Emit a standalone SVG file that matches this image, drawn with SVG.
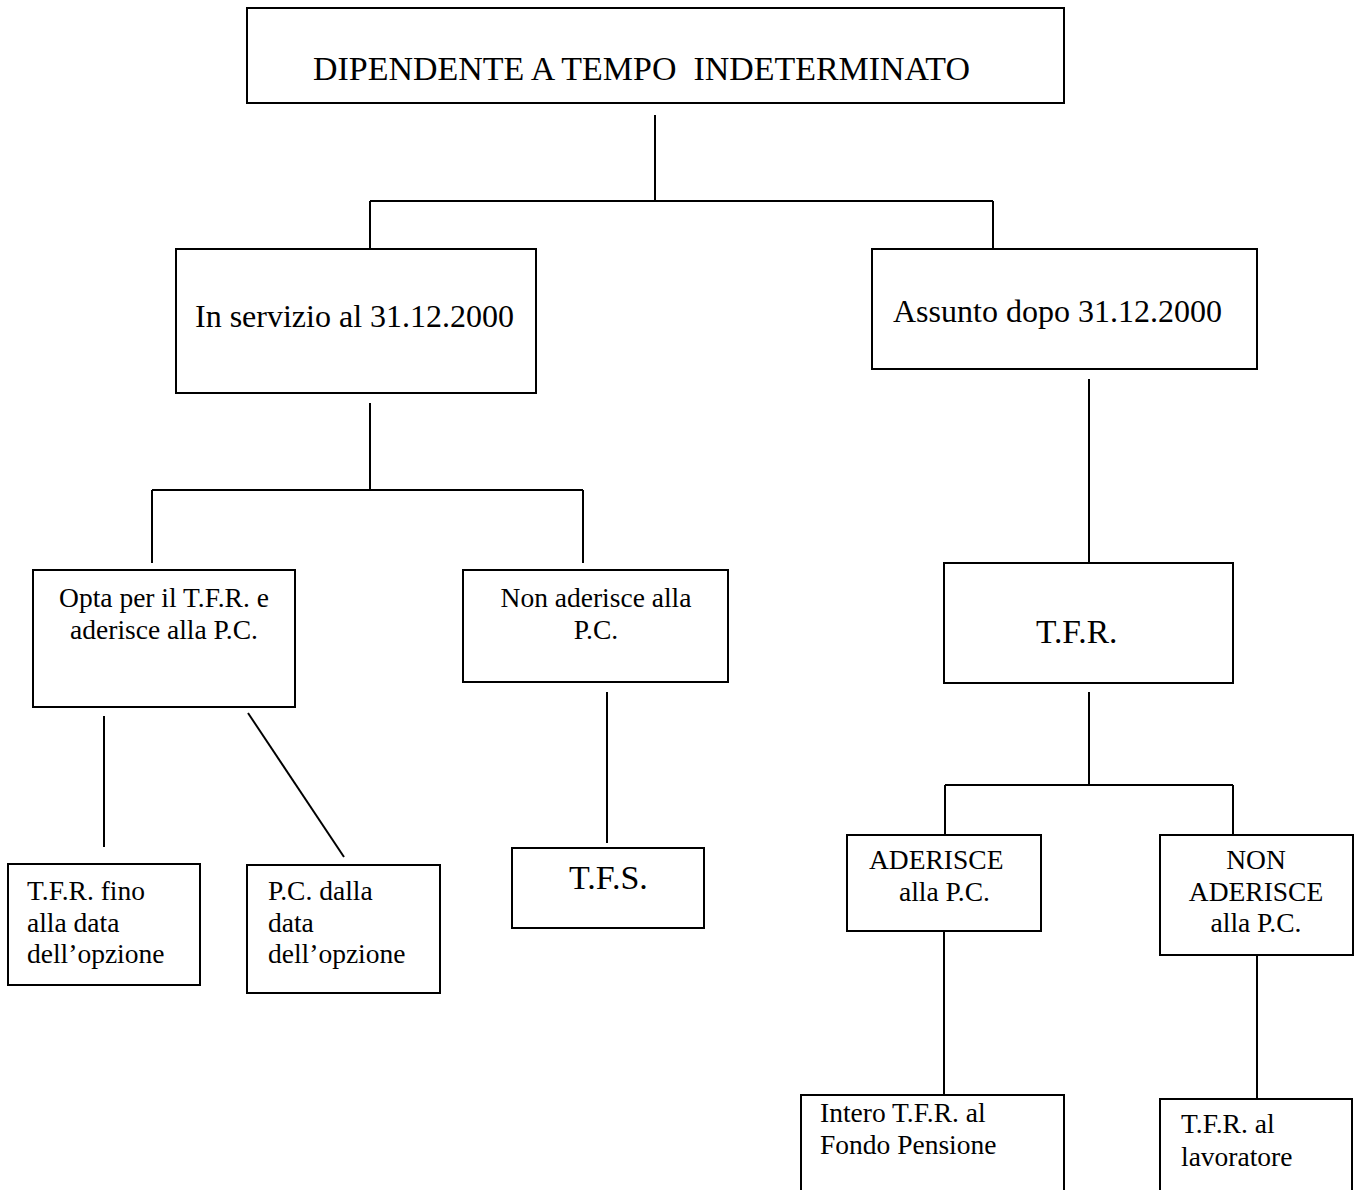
<svg xmlns="http://www.w3.org/2000/svg" width="1361" height="1190" viewBox="0 0 1361 1190">
<style>
  .box { fill: #ffffff; stroke: #000000; stroke-width: 2; }
  .ln { fill: none; stroke: #000000; stroke-width: 2; }
  .big { font-family: "Liberation Serif", "Times New Roman", serif; font-size: 32px; fill: #000000; white-space: pre; }
  .sm { font-family: "Liberation Serif", "Times New Roman", serif; font-size: 27.5px; fill: #000000; white-space: pre; }
  .c { text-anchor: middle; }
</style>
<rect width="1361" height="1190" fill="#ffffff"/>
<g id="connectors">
  <path class="ln" d="M655 115 V201 M370 201 H993 M370 201 V249 M993 201 V249"/>
  <path class="ln" d="M370 403 V490 M152 490 H583 M152 490 V563 M583 490 V563"/>
  <path class="ln" d="M1089 379 V563"/>
  <path class="ln" d="M104 716 V847"/>
  <path class="ln" d="M248 713 L344 857"/>
  <path class="ln" d="M607 692 V843"/>
  <path class="ln" d="M1089 692 V785 M945 785 H1233 M945 785 V835 M1233 785 V835"/>
  <path class="ln" d="M944 931 V1095"/>
  <path class="ln" d="M1257 955 V1099"/>
</g>
<g id="n-dipendente">
  <rect class="box" x="247" y="8" width="817" height="95"/>
  <text class="big" x="313" y="80" style="font-size:33.5px" textLength="657" lengthAdjust="spacingAndGlyphs" xml:space="preserve">DIPENDENTE A TEMPO  INDETERMINATO</text>
</g>
<g id="n-inservizio">
  <rect class="box" x="176" y="249" width="360" height="144"/>
  <text class="big" x="195" y="327">In servizio al 31.12.2000</text>
</g>
<g id="n-assunto">
  <rect class="box" x="872" y="249" width="385" height="120"/>
  <text class="big" x="893" y="322">Assunto dopo 31.12.2000</text>
</g>
<g id="n-opta">
  <rect class="box" x="33" y="570" width="262" height="137"/>
  <text class="sm c" x="164" y="607">Opta per il T.F.R. e</text>
  <text class="sm c" x="164" y="639">aderisce alla P.C.</text>
</g>
<g id="n-nonaderisce">
  <rect class="box" x="463" y="570" width="265" height="112"/>
  <text class="sm c" x="596" y="607">Non aderisce alla</text>
  <text class="sm c" x="596" y="639">P.C.</text>
</g>
<g id="n-tfr">
  <rect class="box" x="944" y="563" width="289" height="120"/>
  <text class="big" x="1036" y="643" style="font-size:33.5px">T.F.R.</text>
</g>
<g id="n-tfrfino">
  <rect class="box" x="8" y="864" width="192" height="121"/>
  <text class="sm" x="27" y="900">T.F.R. fino</text>
  <text class="sm" x="27" y="932">alla data</text>
  <text class="sm" x="27" y="963">dell’opzione</text>
</g>
<g id="n-pcdalla">
  <rect class="box" x="247" y="865" width="193" height="128"/>
  <text class="sm" x="268" y="900">P.C. dalla</text>
  <text class="sm" x="268" y="932">data</text>
  <text class="sm" x="268" y="963">dell’opzione</text>
</g>
<g id="n-tfs">
  <rect class="box" x="512" y="848" width="192" height="80"/>
  <text class="big" x="569" y="889" style="font-size:34px">T.F.S.</text>
</g>
<g id="n-aderisce">
  <rect class="box" x="847" y="835" width="194" height="96"/>
  <text class="sm" x="869" y="869">ADERISCE</text>
  <text class="sm" x="899" y="901">alla P.C.</text>
</g>
<g id="n-nonaderisce2">
  <rect class="box" x="1160" y="835" width="193" height="120"/>
  <text class="sm c" x="1256" y="869">NON</text>
  <text class="sm c" x="1256" y="901">ADERISCE</text>
  <text class="sm c" x="1256" y="932">alla P.C.</text>
</g>
<g id="n-intero">
  <rect class="box" x="801" y="1095" width="263" height="120"/>
  <text class="sm" x="820" y="1122">Intero T.F.R. al</text>
  <text class="sm" x="820" y="1154">Fondo Pensione</text>
</g>
<g id="n-tfral">
  <rect class="box" x="1160" y="1099" width="192" height="120"/>
  <text class="sm" x="1181" y="1133">T.F.R. al</text>
  <text class="sm" x="1181" y="1166">lavoratore</text>
</g>
</svg>
